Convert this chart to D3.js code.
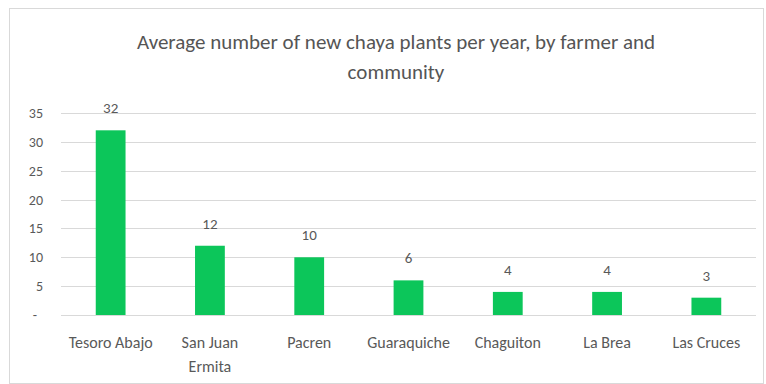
<!DOCTYPE html>
<html>
<head>
<meta charset="utf-8">
<script src="https://cdn.jsdelivr.net/npm/d3@7"></script>
<style>
  html, body { margin: 0; padding: 0; background: #fff; }
  svg { display: block; }
  text { font-family: "Carlito", "Liberation Sans Narrow", Lato, sans-serif; fill: #595959; }
</style>
</head>
<body>
<svg id="chart" width="766" height="384"></svg>
<script>
// Average new chaya plants per year, per community
const communities = [["Tesoro Abajo"], ["San Juan", "Ermita"], ["Pacren"], ["Guaraquiche"], ["Chaguiton"], ["La Brea"], ["Las Cruces"]];
const plantsPerYear = [32, 12, 10, 6, 4, 4, 3];
const yTicks = [0, 5, 10, 15, 20, 25, 30, 35];
const titleLines = ["Average number of new chaya plants per year, by farmer and", "community"];

const svg = d3.select("#chart");
const plot = { left: 61, right: 756, top: 113, bottom: 315 };

// chart frame
svg.append("rect")
  .attr("x", 9.5).attr("y", 8.5)
  .attr("width", 754).attr("height", 375)
  .attr("fill", "#fff").attr("stroke", "#d9d9d9");

const x = d3.scaleBand()
  .domain(communities.map((d, i) => i))
  .range([plot.left, plot.right])
  .paddingInner(0.7).paddingOuter(0.35);

const y = d3.scaleLinear().domain([0, 35]).range([plot.bottom, plot.top]);

// title
const title = svg.append("text")
  .attr("text-anchor", "middle")
  .attr("font-size", 21)
  .style("fill", "#555");
titleLines.forEach((t, i) => {
  title.append("tspan").attr("x", 396).attr("y", 49 + i * 30).text(t);
});

// gridlines
svg.append("g")
  .selectAll("line")
  .data(yTicks)
  .join("line")
  .attr("x1", plot.left).attr("x2", plot.right)
  .attr("y1", d => Math.round(y(d)) + 0.5).attr("y2", d => Math.round(y(d)) + 0.5)
  .attr("stroke", "#d9d9d9").attr("stroke-width", 1);

// y axis labels (zero shown as a dash)
const yAxis = d3.axisLeft(y)
  .tickValues(yTicks)
  .tickSize(0)
  .tickPadding(0)
  .tickFormat(d => d === 0 ? "-" : d);
const yG = svg.append("g").attr("transform", `translate(43,0)`).call(yAxis);
yG.select(".domain").remove();
yG.selectAll("text").attr("font-size", 14).style("font-family", null).style("fill", "#595959").attr("dx", d => d === 0 ? -6 : 0);

// bars
svg.append("g")
  .selectAll("rect")
  .data(plantsPerYear)
  .join("rect")
  .attr("x", (d, i) => x(i))
  .attr("width", x.bandwidth())
  .attr("y", d => y(d))
  .attr("height", d => y(0) - y(d))
  .attr("fill", "#0cc65a");

// value labels
svg.append("g")
  .selectAll("text")
  .data(plantsPerYear)
  .join("text")
  .attr("x", (d, i) => x(i) + x.bandwidth() / 2)
  .attr("y", d => y(d) - 17)
  .attr("text-anchor", "middle")
  .attr("font-size", 15)
  .text(d => d);

// category labels
const xG = svg.append("g");
communities.forEach((lines, i) => {
  const t = xG.append("text")
    .attr("text-anchor", "middle")
    .attr("font-size", 16);
  lines.forEach((l, j) => {
    t.append("tspan")
      .attr("x", x(i) + x.bandwidth() / 2)
      .attr("y", 348 + j * 24)
      .text(l);
  });
});
</script>
</body>
</html>
